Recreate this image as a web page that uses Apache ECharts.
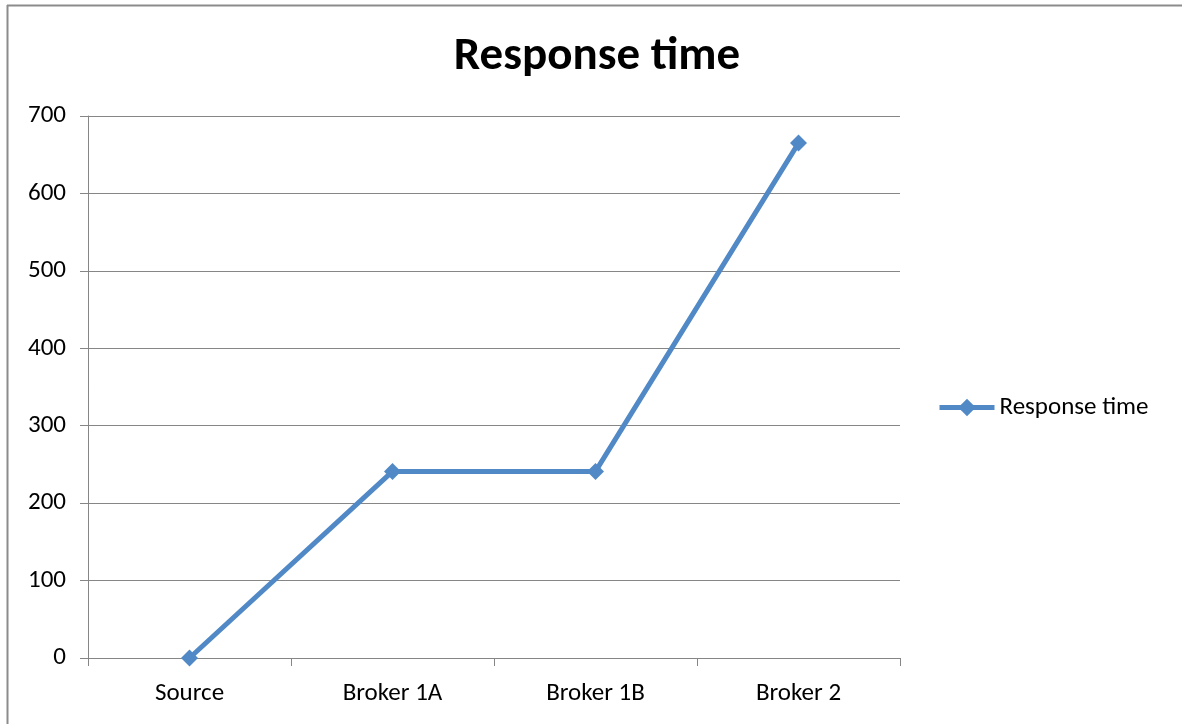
<!DOCTYPE html>
<html><head><meta charset="utf-8">
<script src="https://cdn.jsdelivr.net/npm/echarts@6/dist/echarts.min.js"></script>
<style>html,body{margin:0;padding:0;background:#fff}#c{width:1182px;height:724px}</style>
</head><body><div id="c"></div>
<script>
const categories = ['Source', 'Broker 1A', 'Broker 1B', 'Broker 2'];
const responseTime = [0, 241, 241, 665];
const yTicks = [0, 100, 200, 300, 400, 500, 600, 700];
const seriesName = 'Response time';
const titleText = 'Response time';

const chart = echarts.init(document.getElementById('c'), null, {renderer: 'canvas'});
const font = "Carlito, 'Open Sans', 'Liberation Sans', sans-serif";
const lineColor = '#5189c7';
chart.setOption({
  animation: false,
  backgroundColor: '#fff',
  title: {
    text: titleText, left: 592, top: 29, textAlign: 'center',
    textStyle: {fontFamily: font, fontSize: 47, fontWeight: 'bold', color: '#000'}
  },
  legend: {
    data: [seriesName], left: 932, top: 390, orient: 'vertical',
    itemWidth: 55, itemHeight: 22, itemGap: 6,
    lineStyle: {width: 5, color: lineColor},
    textStyle: {fontFamily: font, fontSize: 25, color: '#000'}
  },
  grid: {left: 88, right: 282, top: 116, bottom: 66, containLabel: false},
  xAxis: {
    type: 'category', data: categories, boundaryGap: true,
    axisLine: {lineStyle: {color: '#868686', width: 1}},
    axisTick: {show: true, length: 8, lineStyle: {color: '#868686'}, alignWithLabel: false},
    axisLabel: {fontFamily: font, fontSize: 25, color: '#000', margin: 23}
  },
  yAxis: {
    type: 'value', min: yTicks[0], max: yTicks[yTicks.length - 1], interval: 100,
    axisLine: {show: true, lineStyle: {color: '#868686', width: 1}},
    axisTick: {show: true, length: 8, lineStyle: {color: '#868686'}},
    axisLabel: {fontFamily: font, fontSize: 25, color: '#000', margin: 22},
    splitLine: {show: true, lineStyle: {color: '#868686', width: 1}}
  },
  series: [{
    name: seriesName, type: 'line', data: responseTime,
    symbol: 'diamond', symbolSize: 17,
    lineStyle: {color: lineColor, width: 5},
    itemStyle: {color: lineColor}
  }],
  graphic: [
    {type: 'line', shape: {x1: 7, y1: 5.5, x2: 1182, y2: 5.5}, style: {stroke: '#8c8c8c', lineWidth: 2}},
    {type: 'line', shape: {x1: 7.5, y1: 5, x2: 7.5, y2: 724}, style: {stroke: '#8c8c8c', lineWidth: 2}}
  ]
});
</script></body></html>
